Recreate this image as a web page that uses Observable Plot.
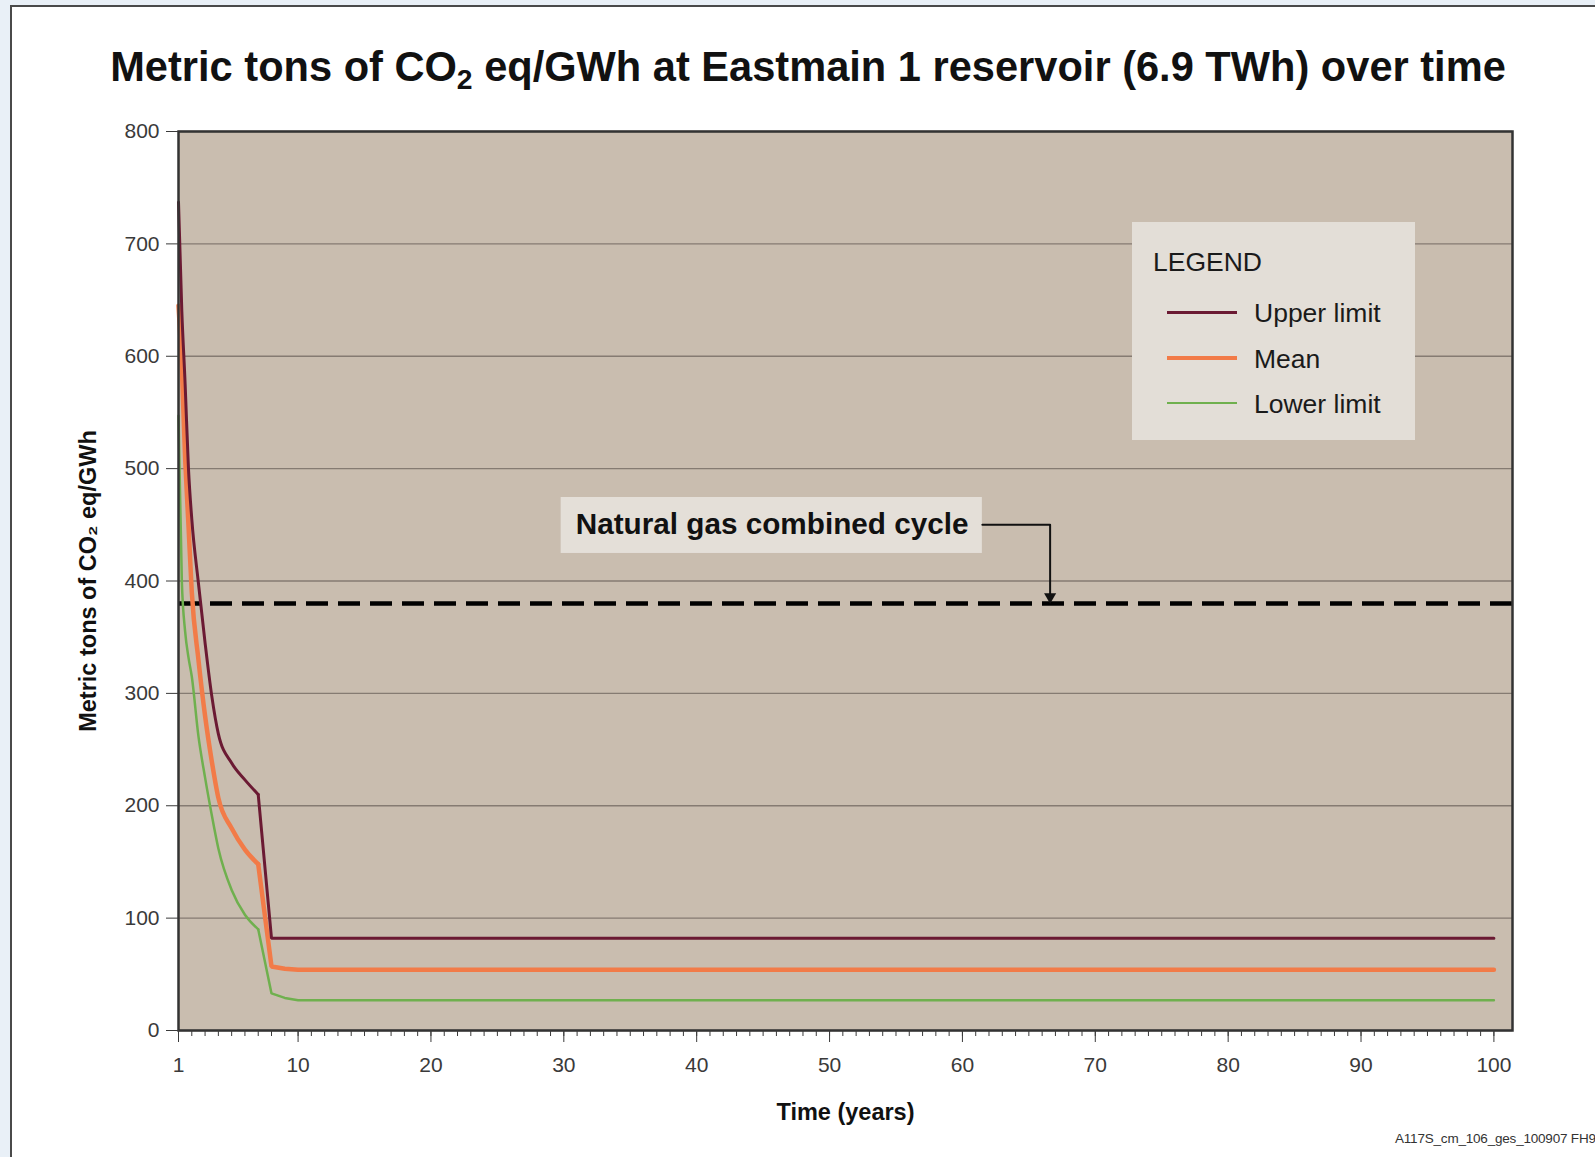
<!DOCTYPE html>
<html>
<head>
<meta charset="utf-8">
<script src="https://cdn.jsdelivr.net/npm/d3@7"></script>
<script src="https://cdn.jsdelivr.net/npm/@observablehq/plot@0.6"></script>
<style>
  body { margin: 0; background: #e9f0f7; font-family: "Liberation Sans", Arial, sans-serif; }
  #page { position: relative; width: 1595px; height: 1157px; overflow: hidden; background: #e9f0f7; }
  #sheet { position: absolute; left: 10px; top: 5px; width: 1600px; height: 1200px; background: #fff;
           border-left: 2px solid #4a4a4a; border-top: 2px solid #4a4a4a; }
  #title { position: absolute; left: 0; top: 46px; width: 1616px; text-align: center; font-weight: bold;
           font-size: 41.6px; line-height: 41px; color: #111; white-space: nowrap; }
  #title sub { font-size: 0.68em; vertical-align: -0.28em; line-height: 0; }
  #chart { position: absolute; left: 0; top: 100px; }
  #legend { position: absolute; left: 1132px; top: 222px; width: 283px; height: 218px; background: #e3ded7; }
  #legend .head { position: absolute; left: 21px; top: 27px; font-size: 26.5px; line-height: 26.5px; color: #1a1a1a; }
  #legend .lab { position: absolute; left: 122px; font-size: 26.5px; line-height: 26.5px; color: #1a1a1a; white-space: nowrap; }
  #legend .sw { position: absolute; left: 35px; width: 70px; }
  #code { position: absolute; left: 1395px; top: 1131px; font-size: 13.5px; color: #333; white-space: nowrap; letter-spacing: -0.2px; }
</style>
</head>
<body>
<div id="page">
  <div id="sheet"></div>
  <div id="title">Metric tons of CO<sub>2</sub> eq/GWh at Eastmain 1 reservoir (6.9 TWh) over time</div>
  <div id="chart"></div>
  <div id="legend"></div>
  <div id="code">A117S_cm_106_ges_100907 FH9</div>
</div>
<script>
// ---- data ----
const years       = [1,   1.25, 1.5, 1.75, 2,   2.5, 3,   3.5, 4,   5,   6,   7,   8,  9,  10, 100];
const upperLimit  = [737, 640,  575, 500,  455, 398, 345, 298, 264, 238, 223, 210, 82, 82, 82, 82];
const meanValues  = [645, 590,  509, 450,  390, 330, 280, 240, 207, 180, 161, 148, 57, 55, 54, 54];
const lowerLimit  = [547, 400,  355, 332,  315, 262, 225, 192, 162, 125, 103, 90,  33, 29, 27, 27];

const seriesNames  = ["Upper limit", "Mean", "Lower limit"];
const seriesColors = ["#6b1a33", "#f27b48", "#6fb04e"];
const seriesWidths = [3, 4.5, 2.5];

const naturalGasCC = [380];
const noteLabel = "Natural gas combined cycle";
const noteBox    = [{x1: 29.8, x2: 61.5, y1: 424.5, y2: 474.3}];
const noteText   = [{x: 30.9, y: 450, text: noteLabel}];
const noteLeader = [{x: 61.5, y: 450}, {x: 66.6, y: 450}, {x: 66.6, y: 386}];
const noteArrow  = [{x: 66.6, y: 386}];

const xTicks = [1, 10, 20, 30, 40, 50, 60, 70, 80, 90, 100];
const xMinorTicks = d3.range(1, 101);
const yTicks = [0, 100, 200, 300, 400, 500, 600, 700, 800];
const xDomain = [1, 101.4];
const yDomain = [0, 800];
const xLabel = "Time (years)";
const yLabel = "Metric tons of CO₂ eq/GWh";
const smoothUntil = 7; // decay phase drawn smooth, step at year 7-8 drawn straight

// ---- table for Plot ----
const seriesValues = [upperLimit, meanValues, lowerLimit];
const rows = [];
seriesValues.forEach((vals, i) => years.forEach((yr, j) => rows.push({series: seriesNames[i], year: yr, value: vals[j]})));

const font = "Liberation Sans, Arial, sans-serif";
const lineMarks = [2, 1, 0].flatMap(i => {
  const s = rows.filter(d => d.series === seriesNames[i]);
  const style = {x: "year", y: "value", stroke: seriesColors[i], strokeWidth: seriesWidths[i], strokeLinejoin: "round", strokeLinecap: "round"};
  return [
    Plot.line(s.filter(d => d.year <= smoothUntil), {...style, curve: "monotone-x"}),
    Plot.line(s.filter(d => d.year >= smoothUntil), {...style, strokeLinejoin: "miter"})
  ];
});

const chart = Plot.plot({
  width: 1595,
  height: 1040,
  marginLeft: 178,
  marginRight: 83,
  marginTop: 31,
  marginBottom: 110,
  style: {fontFamily: font, background: "transparent"},
  x: {domain: xDomain},
  y: {domain: yDomain},
  marks: [
    Plot.frame({fill: "#c9bdaf"}),
    Plot.gridY(yTicks, {stroke: "#857b72", strokeOpacity: 1, strokeWidth: 1.3}),
    Plot.ruleY(naturalGasCC, {stroke: "#000", strokeWidth: 4.5, strokeDasharray: "22,10"}),
    Plot.rect(noteBox, {x1: "x1", x2: "x2", y1: "y1", y2: "y2", fill: "#e4dfd8"}),
    Plot.text(noteText, {x: "x", y: "y", text: "text", textAnchor: "start", fontSize: 29.7, fontWeight: "bold", fill: "#111", fontFamily: font}),
    Plot.line(noteLeader, {x: "x", y: "y", stroke: "#111", strokeWidth: 2}),
    Plot.dot(noteArrow, {x: "x", y: "y", symbol: "triangle", rotate: 180, r: 4.5, fill: "#111", stroke: "none"}),
    ...lineMarks,
    Plot.frame({stroke: "#333", strokeWidth: 2.5}),
    Plot.axisY({ticks: yTicks, tickSize: 12, tickPadding: 7, fontSize: 21, color: "#3a3a3a", label: null}),
    Plot.axisX({ticks: xMinorTicks, tickSize: 6, tickFormat: () => "", color: "#3a3a3a", label: null}),
    Plot.axisX({ticks: xTicks, tickSize: 12, tickPadding: 15, fontSize: 21, color: "#3a3a3a", label: null}),
    Plot.text([xLabel], {frameAnchor: "bottom", dy: 89, textAnchor: "middle", fontSize: 23.5, fontWeight: "bold", fill: "#111", fontFamily: font}),
    Plot.text([yLabel], {frameAnchor: "left", dx: -90, rotate: -90, textAnchor: "middle", fontSize: 23.5, fontWeight: "bold", fill: "#111", fontFamily: font})
  ]
});
document.getElementById("chart").appendChild(chart);

// ---- legend (HTML overlay) ----
const legend = document.getElementById("legend");
const head = document.createElement("div");
head.className = "head";
head.textContent = "LEGEND";
legend.appendChild(head);
const rowCenters = [90, 136, 181];
seriesNames.forEach((name, i) => {
  const sw = document.createElement("div");
  sw.className = "sw";
  sw.style.height = seriesWidths[i] + "px";
  sw.style.top = (rowCenters[i] - seriesWidths[i] / 2) + "px";
  sw.style.background = seriesColors[i];
  legend.appendChild(sw);
  const lab = document.createElement("div");
  lab.className = "lab";
  lab.style.top = (rowCenters[i] - 12.5) + "px";
  lab.textContent = name;
  legend.appendChild(lab);
});
</script>
</body>
</html>
